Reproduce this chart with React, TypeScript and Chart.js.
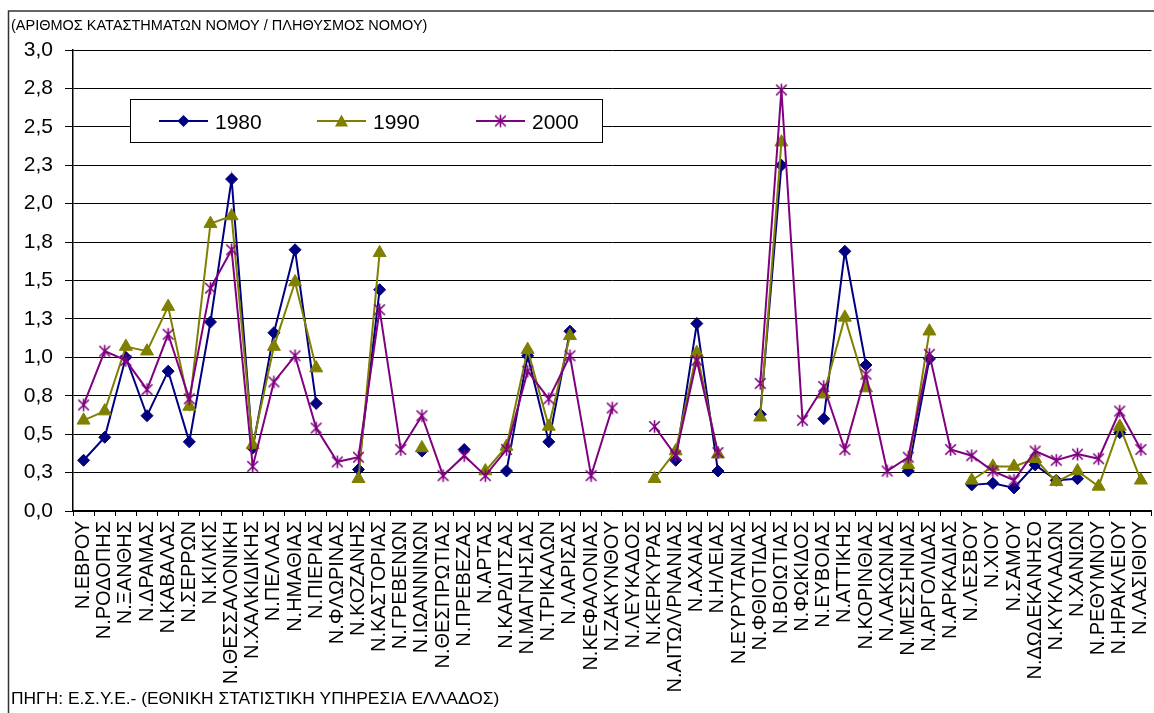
import React, { useEffect, useRef } from 'react';
import { Chart, registerables } from 'chart.js';

Chart.register(...registerables);

const categories = [
  'Ν.ΕΒΡΟΥ', 'Ν.ΡΟΔΟΠΗΣ', 'Ν.ΞΑΝΘΗΣ', 'Ν.ΔΡΑΜΑΣ', 'Ν.ΚΑΒΑΛΑΣ', 'Ν.ΣΕΡΡΩΝ', 'Ν.ΚΙΛΚΙΣ',
  'Ν.ΘΕΣΣΑΛΟΝΙΚΗ', 'Ν.ΧΑΛΚΙΔΙΚΗΣ', 'Ν.ΠΕΛΛΑΣ', 'Ν.ΗΜΑΘΙΑΣ', 'Ν.ΠΙΕΡΙΑΣ', 'Ν.ΦΛΩΡΙΝΑΣ',
  'Ν.ΚΟΖΑΝΗΣ', 'Ν.ΚΑΣΤΟΡΙΑΣ', 'Ν.ΓΡΕΒΕΝΩΝ', 'Ν.ΙΩΑΝΝΙΝΩΝ', 'Ν.ΘΕΣΠΡΩΤΙΑΣ', 'Ν.ΠΡΕΒΕΖΑΣ',
  'Ν.ΑΡΤΑΣ', 'Ν.ΚΑΡΔΙΤΣΑΣ', 'Ν.ΜΑΓΝΗΣΙΑΣ', 'Ν.ΤΡΙΚΑΛΩΝ', 'Ν.ΛΑΡΙΣΑΣ', 'Ν.ΚΕΦΑΛΟΝΙΑΣ',
  'Ν.ΖΑΚΥΝΘΟΥ', 'Ν.ΛΕΥΚΑΔΟΣ', 'Ν.ΚΕΡΚΥΡΑΣ', 'Ν.ΑΙΤΩΛ/ΡΝΑΝΙΑΣ', 'Ν.ΑΧΑΙΑΣ', 'Ν.ΗΛΕΙΑΣ',
  'Ν.ΕΥΡΥΤΑΝΙΑΣ', 'Ν.ΦΘΙΟΤΙΔΑΣ', 'Ν.ΒΟΙΩΤΙΑΣ', 'Ν.ΦΩΚΙΔΟΣ', 'Ν.ΕΥΒΟΙΑΣ', 'Ν.ΑΤΤΙΚΗΣ',
  'Ν.ΚΟΡΙΝΘΙΑΣ', 'Ν.ΛΑΚΩΝΙΑΣ', 'Ν.ΜΕΣΣΗΝΙΑΣ', 'Ν.ΑΡΓΟΛΙΔΑΣ', 'Ν.ΑΡΚΑΔΙΑΣ', 'Ν.ΛΕΣΒΟΥ',
  'Ν.ΧΙΟΥ', 'Ν.ΣΑΜΟΥ', 'Ν.ΔΩΔΕΚΑΝΗΣΟ', 'Ν.ΚΥΚΛΑΔΩΝ', 'Ν.ΧΑΝΙΩΝ', 'Ν.ΡΕΘΥΜΝΟΥ',
  'Ν.ΗΡΑΚΛΕΙΟΥ', 'Ν.ΛΑΣΙΘΙΟΥ',
];

const values1980 = [
  0.33, 0.48, 1.00, 0.62, 0.91, 0.45, 1.23, 2.16, 0.41, 1.16, 1.70, 0.70, null,
  0.27, 1.44, null, 0.39, null, 0.40, null, 0.26, 1.01, 0.45, 1.17, null,
  null, null, null, 0.33, 1.22, 0.26, null, 0.63, 2.25, null, 0.60, 1.69,
  0.95, null, 0.26, 0.99, null, 0.17, 0.18, 0.15, 0.30, 0.20, 0.21, null,
  0.51, null,
];

const values1990 = [
  0.59, 0.65, 1.07, 1.04, 1.33, 0.68, 1.87, 1.92, 0.43, 1.07, 1.49, 0.93, null,
  0.21, 1.68, null, 0.41, null, null, 0.26, 0.42, 1.05, 0.55, 1.14, null,
  null, null, 0.21, 0.39, 1.03, 0.37, null, 0.61, 2.40, null, 0.76, 1.26,
  0.80, null, 0.30, 1.17, null, 0.20, 0.29, 0.29, 0.34, 0.19, 0.26, 0.16,
  0.55, 0.20,
];

const values2000 = [
  0.69, 1.04, 0.98, 0.79, 1.15, 0.73, 1.45, 1.70, 0.29, 0.84, 1.01, 0.54, 0.32,
  0.35, 1.31, 0.40, 0.62, 0.23, 0.36, 0.23, 0.40, 0.91, 0.73, 1.01, 0.23,
  0.67, null, 0.55, 0.36, 0.98, 0.38, null, 0.83, 2.74, 0.59, 0.81, 0.40,
  0.89, 0.26, 0.35, 1.02, 0.40, 0.36, 0.26, 0.20, 0.39, 0.33, 0.37, 0.34,
  0.65, 0.40,
];

const seriesNames = ['1980', '1990', '2000'];
const yMin = 0;
const yMax = 3;
const yStep = 0.25;

const titleText = '(ΑΡΙΘΜΟΣ ΚΑΤΑΣΤΗΜΑΤΩΝ ΝΟΜΟΥ / ΠΛΗΘΥΣΜΟΣ ΝΟΜΟΥ)';
const sourceText = 'ΠΗΓΗ: Ε.Σ.Υ.Ε.- (ΕΘΝΙΚΗ ΣΤΑΤΙΣΤΙΚΗ ΥΠΗΡΕΣΙΑ ΕΛΛΑΔΟΣ)';

const FONT = "'Liberation Sans', Arial, sans-serif";
const NAVY = '#000080';
const OLIVE = '#808000';
const PURPLE = '#800080';

function makeStar(color: string): HTMLCanvasElement {
  const size = 15;
  const c = document.createElement('canvas');
  c.width = size;
  c.height = size;
  const g = c.getContext('2d')!;
  g.strokeStyle = color;
  g.lineWidth = 1.6;
  const m = size / 2;
  const r = 6.2;
  const d = 5.3;
  g.beginPath();
  g.moveTo(m, m - r);
  g.lineTo(m, m + r);
  g.moveTo(m - d, m - d);
  g.lineTo(m + d, m + d);
  g.moveTo(m + d, m - d);
  g.lineTo(m - d, m + d);
  g.stroke();
  return c;
}

export default function App() {
  const canvasRef = useRef<HTMLCanvasElement | null>(null);

  useEffect(() => {
    const canvas = canvasRef.current;
    if (!canvas) return;
    const star = makeStar(PURPLE);

    const decorPlugin = {
      id: 'decor',
      afterDraw(chart: any) {
        const ctx = chart.ctx as CanvasRenderingContext2D;
        ctx.save();
        // outer frame (left & top edges visible)
        ctx.strokeStyle = '#333';
        ctx.lineWidth = 1.5;
        ctx.beginPath();
        ctx.moveTo(8.5, 713);
        ctx.lineTo(8.5, 11);
        ctx.lineTo(1200, 11);
        ctx.stroke();

        // title & source
        ctx.fillStyle = '#000';
        ctx.textAlign = 'left';
        ctx.textBaseline = 'alphabetic';
        ctx.font = `14.5px ${FONT}`;
        ctx.fillText(titleText, 11, 30);
        ctx.font = `17.4px ${FONT}`;
        ctx.fillText(sourceText, 11, 704);

        // legend
        const lx = 130.5, ly = 99.5, lw = 472, lh = 43;
        ctx.fillStyle = '#fff';
        ctx.fillRect(lx, ly, lw, lh);
        ctx.strokeStyle = '#000';
        ctx.lineWidth = 1;
        ctx.strokeRect(lx, ly, lw, lh);
        const cy = 121;
        const entries = [
          { x: 159, color: NAVY, style: 'diamond', text: seriesNames[0] },
          { x: 317, color: OLIVE, style: 'triangle', text: seriesNames[1] },
          { x: 476, color: PURPLE, style: 'star', text: seriesNames[2] },
        ];
        for (const e of entries) {
          ctx.strokeStyle = e.color;
          ctx.lineWidth = 2;
          ctx.beginPath();
          ctx.moveTo(e.x, cy);
          ctx.lineTo(e.x + 49, cy);
          ctx.stroke();
          const mx = e.x + 24.5;
          ctx.fillStyle = e.color;
          if (e.style === 'diamond') {
            ctx.beginPath();
            ctx.moveTo(mx, cy - 6);
            ctx.lineTo(mx + 6, cy);
            ctx.lineTo(mx, cy + 6);
            ctx.lineTo(mx - 6, cy);
            ctx.closePath();
            ctx.fill();
          } else if (e.style === 'triangle') {
            ctx.beginPath();
            ctx.moveTo(mx, cy - 6.5);
            ctx.lineTo(mx + 6.5, cy + 5.5);
            ctx.lineTo(mx - 6.5, cy + 5.5);
            ctx.closePath();
            ctx.fill();
          } else {
            ctx.drawImage(star, mx - star.width / 2, cy - star.height / 2);
          }
          ctx.fillStyle = '#000';
          ctx.font = `21px ${FONT}`;
          ctx.fillText(e.text, e.x + 56, cy + 7.5);
        }
        ctx.restore();
      },
    };

    const chart = new Chart(canvas, {
      type: 'line',
      data: {
        labels: categories,
        datasets: [
          {
            label: seriesNames[0],
            data: values1980,
            borderColor: NAVY,
            backgroundColor: NAVY,
            borderWidth: 2,
            pointStyle: 'rectRot',
            pointRadius: 6,
            pointBorderWidth: 1,
            pointBackgroundColor: NAVY,
            pointBorderColor: NAVY,
            spanGaps: false,
            tension: 0,
            order: 3,
          },
          {
            label: seriesNames[1],
            data: values1990,
            borderColor: OLIVE,
            backgroundColor: OLIVE,
            borderWidth: 2,
            pointStyle: 'triangle',
            pointRadius: 7.5,
            pointBorderWidth: 1,
            pointBackgroundColor: OLIVE,
            pointBorderColor: OLIVE,
            spanGaps: false,
            tension: 0,
            order: 2,
          },
          {
            label: seriesNames[2],
            data: values2000,
            borderColor: PURPLE,
            backgroundColor: PURPLE,
            borderWidth: 2,
            pointStyle: star as any,
            pointRadius: 7,
            spanGaps: false,
            tension: 0,
            order: 1,
          },
        ],
      },
      options: {
        responsive: false,
        animation: false,
        events: [],
        layout: { padding: { top: 50, right: 10.7, left: 0, bottom: 0 } },
        plugins: {
          legend: { display: false },
          tooltip: { enabled: false },
          title: { display: false },
        },
        scales: {
          x: {
            offset: true,
            ticks: {
              autoSkip: false,
              maxRotation: 90,
              minRotation: 90,
              color: '#000',
              padding: 5,
              font: { family: FONT, size: 20 },
            },
            grid: {
              offset: true,
              drawOnChartArea: false,
              drawTicks: true,
              tickLength: 5,
              color: '#000',
            },
            border: { color: '#000', width: 1.5 },
            afterFit: (s: any) => {
              s.height = 202;
            },
          },
          y: {
            min: yMin,
            max: yMax,
            ticks: {
              stepSize: yStep,
              color: '#000',
              padding: 12,
              font: { family: FONT, size: 21 },
              callback: (v: any) => Number(v).toFixed(1).replace('.', ','),
            },
            grid: {
              color: '#000',
              lineWidth: 1,
              drawTicks: true,
              tickLength: 8,
              tickColor: '#000',
            },
            border: { color: '#000', width: 1.5 },
            afterFit: (s: any) => {
              s.width = 73;
            },
          },
        },
      },
      plugins: [decorPlugin],
    });

    return () => {
      chart.destroy();
    };
  }, []);

  return (
    <div
      style={{
        position: 'fixed',
        left: 0,
        top: 0,
        width: 1154,
        height: 713,
        overflow: 'hidden',
        background: '#fff',
      }}
    >
      <canvas ref={canvasRef} width={1170} height={713} style={{ display: 'block' }} />
    </div>
  );
}
